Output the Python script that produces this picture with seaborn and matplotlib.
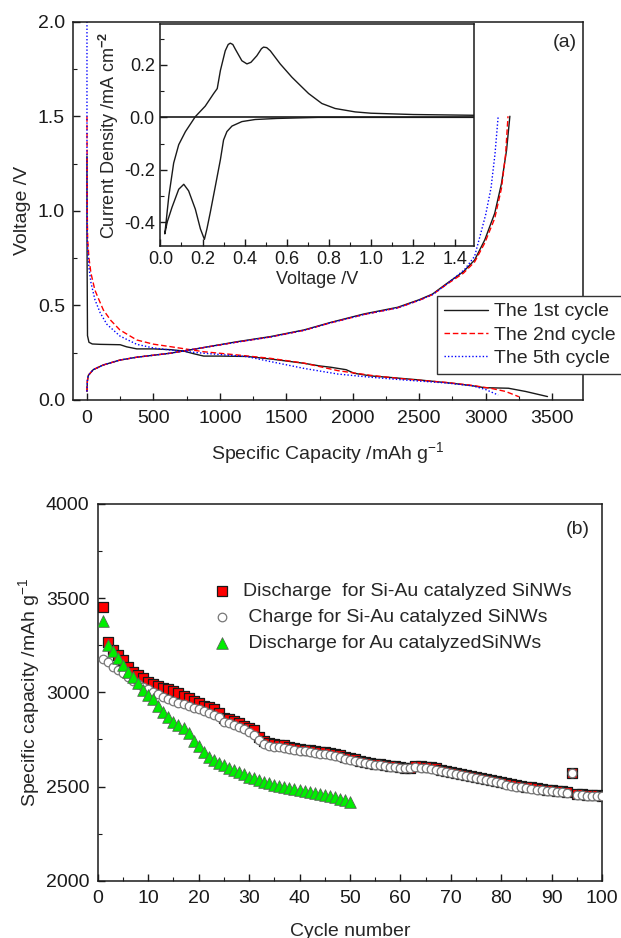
import numpy as np
import matplotlib
matplotlib.use("Agg")
import matplotlib.pyplot as plt
from matplotlib.ticker import MultipleLocator
import seaborn as sns

sns.set_theme(style="ticks")
plt.rcParams['font.family'] = ['Liberation Sans', 'DejaVu Sans']
plt.rcParams['mathtext.fontset'] = 'custom'
plt.rcParams['mathtext.rm'] = 'Liberation Sans'
plt.rcParams['mathtext.bf'] = 'Liberation Sans:bold'
plt.rcParams['mathtext.default'] = 'regular'
plt.rcParams['axes.unicode_minus'] = False

# (a) voltage profiles, capacity in mAh/g, voltage in V
cap_d1 = [0, 0, 2, 4, 15, 40, 100, 250, 298, 375, 500, 626, 725, 800, 878, 1000, 1205, 1400, 1632,
          1750, 1834, 1950, 2010, 2137, 2300, 2498, 2752, 2900, 2991, 3171, 3300, 3465]
v_d1 = [1.29, 0.9, 0.6, 0.34, 0.305, 0.296, 0.294, 0.292, 0.281, 0.27, 0.27, 0.266, 0.259, 0.245,
        0.232, 0.232, 0.23, 0.215, 0.194, 0.18, 0.173, 0.16, 0.141, 0.127, 0.118, 0.106, 0.088,
        0.075, 0.065, 0.062, 0.045, 0.018]
cap_d2 = [0, 2, 5, 15, 30, 60, 90, 123, 180, 248, 375, 500, 626, 877, 1130, 1381, 1632, 1888, 2137,
          2400, 2700, 2900, 3050, 3150, 3250]
v_d2 = [1.5, 1.0, 0.85, 0.75, 0.67, 0.58, 0.53, 0.476, 0.42, 0.37, 0.317, 0.295, 0.282, 0.255,
        0.238, 0.22, 0.195, 0.155, 0.13, 0.11, 0.093, 0.077, 0.06, 0.045, 0.017]
cap_d5 = [0, 0, 3, 8, 15, 30, 60, 100, 150, 248, 375, 500, 626, 877, 1205, 1381, 1632, 1888, 2137,
          2400, 2700, 2900, 3000, 3094]
v_d5 = [2.0, 1.0, 0.85, 0.76, 0.70, 0.62, 0.53, 0.46, 0.40, 0.338, 0.294, 0.275, 0.264, 0.247,
        0.229, 0.203, 0.167, 0.137, 0.12, 0.105, 0.09, 0.075, 0.055, 0.026]

cap_c1 = [0, 3, 10, 47, 123, 248, 375, 626, 877, 1130, 1381, 1632, 1834, 2086, 2338, 2500, 2600,
          2700, 2832, 2917, 2993, 3068, 3119, 3157, 3182]
v_c1 = [0.045, 0.1, 0.13, 0.16, 0.185, 0.211, 0.226, 0.247, 0.277, 0.308, 0.335, 0.37, 0.41, 0.455,
        0.49, 0.53, 0.56, 0.612, 0.678, 0.74, 0.846, 0.987, 1.145, 1.32, 1.5]
cap_c2 = [0, 3, 10, 47, 123, 248, 375, 626, 877, 1130, 1381, 1632, 1834, 2086, 2338, 2500, 2600,
          2700, 2832, 2917, 2993, 3068, 3119, 3150, 3168]
v_c2 = [0.045, 0.1, 0.13, 0.16, 0.185, 0.211, 0.226, 0.247, 0.277, 0.306, 0.333, 0.368, 0.408,
        0.452, 0.487, 0.527, 0.557, 0.608, 0.67, 0.73, 0.83, 0.96, 1.12, 1.3, 1.5]
cap_c5 = [0, 3, 10, 47, 123, 248, 375, 626, 877, 1130, 1381, 1632, 1834, 2086, 2338, 2500, 2600,
          2700, 2842, 2917, 2955, 3000, 3040, 3070, 3094]
v_c5 = [0.045, 0.1, 0.13, 0.16, 0.185, 0.211, 0.226, 0.247, 0.277, 0.306, 0.333, 0.368, 0.408,
        0.452, 0.487, 0.527, 0.557, 0.608, 0.69, 0.76, 0.86, 0.98, 1.12, 1.3, 1.5]

# inset: cyclic voltammogram
cv_v = [1.5, 1.0, 0.75, 0.553, 0.45, 0.387, 0.34, 0.316, 0.30, 0.285, 0.261, 0.237, 0.221, 0.209,
        0.19, 0.166, 0.134, 0.111, 0.087, 0.055, 0.032, 0.021, 0.04, 0.063, 0.087, 0.119, 0.166,
        0.213, 0.253, 0.27, 0.285, 0.308, 0.322, 0.332, 0.344, 0.356, 0.387, 0.411, 0.43, 0.458,
        0.48, 0.49, 0.505, 0.522, 0.569, 0.625, 0.672, 0.704, 0.767, 0.83, 0.925, 1.0, 1.2, 1.5]
cv_i = [0.0, 0.0, 0.0, -0.004, -0.008, -0.016, -0.033, -0.054, -0.086, -0.161, -0.262, -0.362,
        -0.425, -0.465, -0.425, -0.35, -0.28, -0.255, -0.274, -0.343, -0.40, -0.444, -0.30,
        -0.174, -0.104, -0.054, 0.003, 0.043, 0.091, 0.11, 0.179, 0.254, 0.278, 0.283, 0.278,
        0.26, 0.216, 0.204, 0.21, 0.235, 0.262, 0.268, 0.266, 0.254, 0.204, 0.153, 0.116, 0.091,
        0.053, 0.034, 0.021, 0.016, 0.011, 0.008]

# (b) cycling
cycles = list(range(1, 101))
dis_siau = [3455, 3265, 3225, 3198, 3172, 3136, 3110, 3092, 3074, 3057,
            3044, 3034, 3025, 3016, 3007, 2995, 2981, 2968, 2956, 2942,
            2929, 2920, 2910, 2892, 2862, 2856, 2850, 2835, 2823, 2809,
            2800, 2765, 2740, 2730, 2726, 2722, 2719, 2712, 2705, 2700,
            2696, 2692, 2688, 2684, 2681, 2678, 2675, 2668, 2658, 2650,
            2644, 2637, 2632, 2627, 2622, 2618, 2614, 2611, 2607, 2604,
            2600, 2600, 2611, 2609, 2605, 2601, 2596, 2590, 2584, 2578,
            2573, 2568, 2563, 2557, 2552, 2547, 2542, 2537, 2531, 2524,
            2517, 2512, 2507, 2503, 2499, 2495, 2491, 2487, 2484, 2481,
            2478, 2475, 2472, 2572, 2462, 2459, 2457, 2455, 2453, 2450]
chg_siau = [3175, 3159, 3136, 3119, 3101, 3080, 3062, 3044, 3030, 3016,
            3002, 2989, 2977, 2966, 2956, 2945, 2936, 2928, 2919, 2910,
            2901, 2892, 2880, 2867, 2845, 2838, 2829, 2818, 2804, 2791,
            2773, 2745, 2726, 2716, 2712, 2709, 2705, 2700, 2695, 2690,
            2686, 2682, 2679, 2675, 2672, 2668, 2664, 2658, 2648, 2641,
            2635, 2630, 2625, 2619, 2615, 2612, 2609, 2605, 2602, 2599,
            2597, 2599, 2604, 2600, 2596, 2591, 2586, 2580, 2575, 2570,
            2565, 2560, 2555, 2549, 2545, 2540, 2535, 2530, 2524, 2517,
            2510, 2505, 2500, 2496, 2492, 2488, 2484, 2480, 2477, 2474,
            2471, 2469, 2467, 2572, 2456, 2454, 2452, 2451, 2450, 2448]
cycles_au = list(range(1, 51))
dis_au = [3381, 3251, 3221, 3184, 3145, 3110, 3083, 3051, 3012, 2986,
          2963, 2927, 2897, 2871, 2844, 2827, 2809, 2786, 2743, 2715,
          2685, 2658, 2641, 2627, 2614, 2600, 2588, 2575, 2565, 2552,
          2543, 2535, 2526, 2517, 2508, 2503, 2496, 2490, 2485, 2481,
          2476, 2471, 2465, 2460, 2455, 2450, 2442, 2435, 2428, 2419]

fig = plt.figure(figsize=(6.21, 9.38), dpi=100)
ax1 = fig.add_axes([0.118, 0.5736, 0.8214, 0.4033])
ax2 = fig.add_axes([0.1575, 0.0611, 0.812, 0.4016])
axin = fig.add_axes([0.2583, 0.7381, 0.5051, 0.236])

red = '#ff0000'
blue = '#0000ff'
dash = (0, (4, 2))
dot = (0, (1, 1.5))

sns.lineplot(x=cap_d1, y=v_d1, ax=ax1, sort=False, estimator=None, color='k', lw=1,
             label='The 1st cycle')
sns.lineplot(x=cap_d2, y=v_d2, ax=ax1, sort=False, estimator=None, color=red, lw=1,
             linestyle=dash, label='The 2nd cycle')
sns.lineplot(x=cap_d5, y=v_d5, ax=ax1, sort=False, estimator=None, color=blue, lw=1,
             linestyle=dot, label='The 5th cycle')
sns.lineplot(x=cap_c1, y=v_c1, ax=ax1, sort=False, estimator=None, color='k', lw=1)
sns.lineplot(x=cap_c2, y=v_c2, ax=ax1, sort=False, estimator=None, color=red, lw=1, linestyle=dash)
sns.lineplot(x=cap_c5, y=v_c5, ax=ax1, sort=False, estimator=None, color=blue, lw=1, linestyle=dot)

ax1.set_xlim(-103, 3735)
ax1.set_ylim(0, 2.0)
ax1.xaxis.set_major_locator(MultipleLocator(500))
ax1.xaxis.set_minor_locator(MultipleLocator(250))
ax1.yaxis.set_major_locator(MultipleLocator(0.5))
ax1.yaxis.set_minor_locator(MultipleLocator(0.25))
ax1.yaxis.set_major_formatter(matplotlib.ticker.FormatStrFormatter('%.1f'))
ax1.set_xlabel('Specific Capacity /mAh g$^{-1}$', fontsize=14, labelpad=10)
ax1.set_ylabel('Voltage /V', fontsize=14, labelpad=5)
ax1.text(0.964, 0.946, '(a)', transform=ax1.transAxes, fontsize=14, ha='center', va='center')
leg = ax1.legend(loc='upper left', bbox_to_anchor=(0.714, 0.275), fontsize=14, frameon=True,
                 fancybox=False, framealpha=1, edgecolor='#333333', handlelength=2.27,
                 labelspacing=0.3, borderpad=0.35, handletextpad=0.3, borderaxespad=0)
leg.get_frame().set_linewidth(1)
leg.set_zorder(5)

sns.lineplot(x=cv_v, y=cv_i, ax=axin, sort=False, estimator=None, color='k', lw=1)
axin.axhline(0, color='k', lw=1.2)
axin.set_xlim(0, 1.49)
axin.set_ylim(-0.489, 0.355)
axin.xaxis.set_major_locator(MultipleLocator(0.2))
axin.xaxis.set_minor_locator(MultipleLocator(0.1))
axin.yaxis.set_major_locator(MultipleLocator(0.2))
axin.yaxis.set_minor_locator(MultipleLocator(0.1))
axin.xaxis.set_major_formatter(matplotlib.ticker.FormatStrFormatter('%.1f'))
axin.yaxis.set_major_formatter(matplotlib.ticker.FormatStrFormatter('%.1f'))
axin.set_xlabel('Voltage /V', fontsize=13, labelpad=2)
axin.set_ylabel(r'Current Density /mA cm$^{\mathbf{-2}}$', fontsize=13, labelpad=2)

sns.scatterplot(x=cycles, y=dis_siau, ax=ax2, marker='s', s=48, color=red, edgecolor='k',
                linewidth=0.9, label='Discharge  for Si-Au catalyzed SiNWs', zorder=3)
sns.scatterplot(x=cycles, y=chg_siau, ax=ax2, marker='o', s=38, color='white', edgecolor='#777777',
                linewidth=0.9, label=' Charge for Si-Au catalyzed SiNWs', zorder=4)
sns.scatterplot(x=cycles_au, y=dis_au, ax=ax2, marker='^', s=70, color='#00ee00', edgecolor='#556655',
                linewidth=0.6, label=' Discharge for Au catalyzedSiNWs', zorder=5)
ax2.set_xlim(0, 100)
ax2.set_ylim(2000, 4000)
ax2.xaxis.set_major_locator(MultipleLocator(10))
ax2.xaxis.set_minor_locator(MultipleLocator(5))
ax2.yaxis.set_major_locator(MultipleLocator(500))
ax2.yaxis.set_minor_locator(MultipleLocator(250))
ax2.set_xlabel('Cycle number', fontsize=14, labelpad=11)
ax2.set_ylabel('Specific capacity /mAh g$^{-1}$', fontsize=14, labelpad=3)
ax2.text(0.951, 0.931, '(b)', transform=ax2.transAxes, fontsize=14, ha='center', va='center')
ax2.legend(loc='upper left', bbox_to_anchor=(0.2116, 0.812), fontsize=14, frameon=False,
           handlelength=1.0, handletextpad=0.6, labelspacing=0.42, borderaxespad=0)

for ax in (ax1, ax2, axin):
    ax.tick_params(which='both', direction='in', top=False, right=False, colors='k')
    ax.tick_params(which='major', length=5, width=1)
    ax.tick_params(which='minor', length=3, width=0.8)
    for sp in ax.spines.values():
        sp.set_linewidth(1.1)
        sp.set_color('k')
for ax in (ax1, ax2):
    ax.tick_params(axis='both', labelsize=14)
    ax.tick_params(axis='x', pad=7)
    ax.tick_params(axis='y', pad=6)
axin.tick_params(axis='both', labelsize=13, pad=4)

fig.savefig('out.png', dpi=100)
